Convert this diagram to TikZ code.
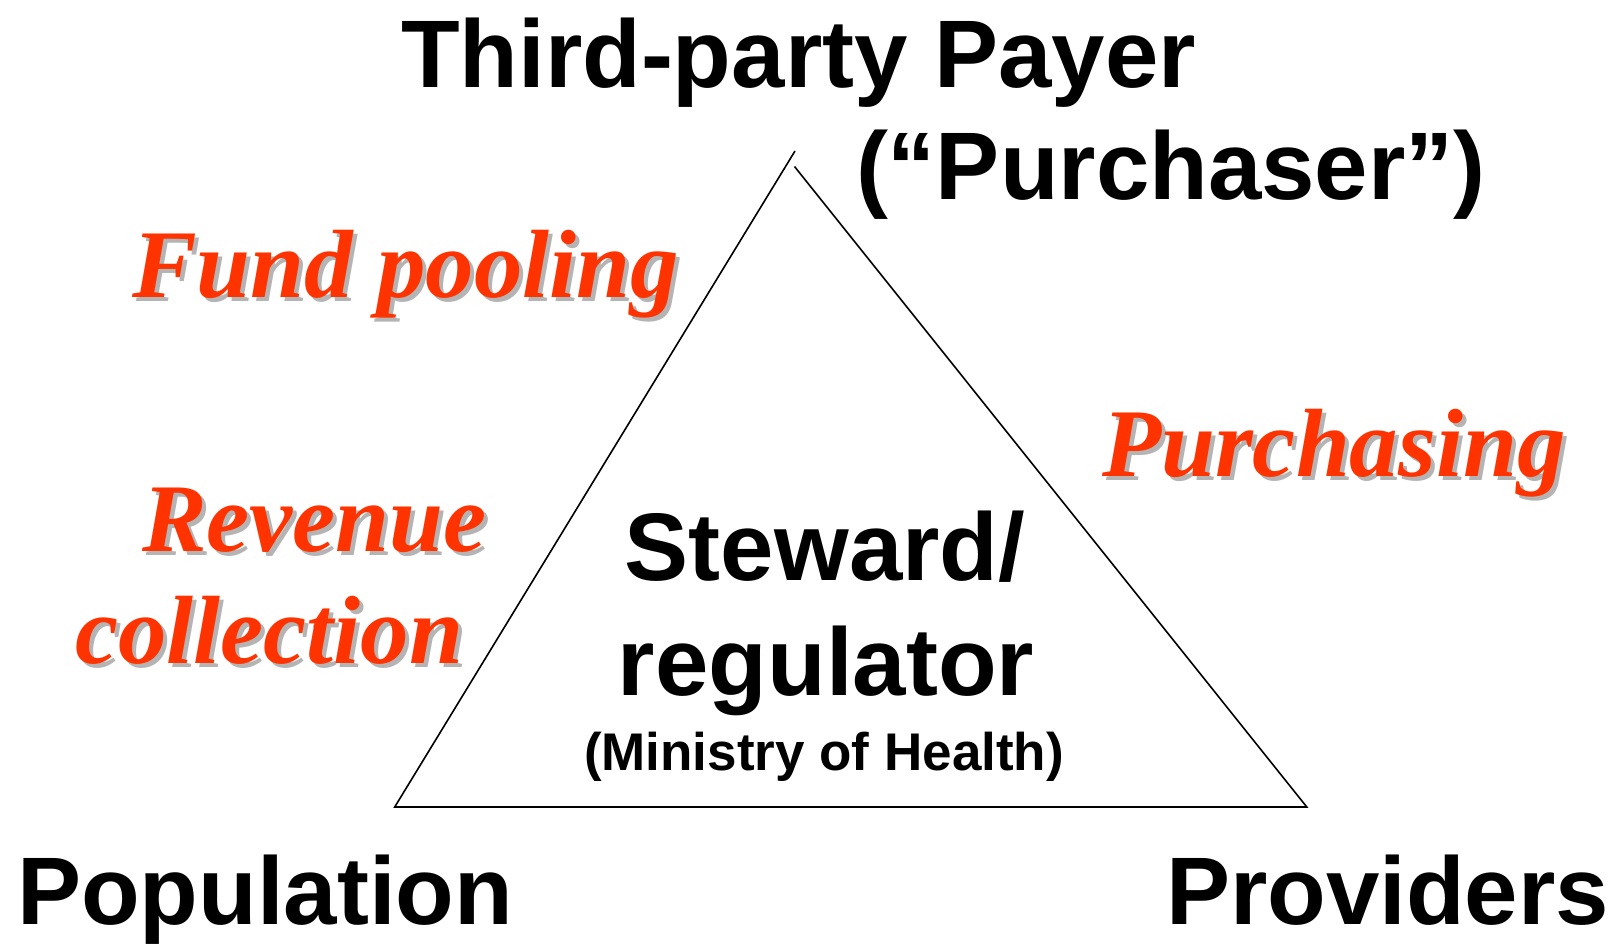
\documentclass[tikz,border=0pt]{standalone}
\usepackage{fontspec}
\newfontfamily\hvfont{Liberation Sans}
\newfontfamily\tmfont{Liberation Serif}
\definecolor{redtxt}{HTML}{FF3300}
\definecolor{shadowgray}{HTML}{B4B4B4}
\begin{document}
\begin{tikzpicture}[x=1pt,y=-1pt,
  blk/.style={inner sep=0pt,outer sep=0pt,text=black,font=\hvfont\bfseries\fontsize{96}{115}\selectfont},
  small/.style={inner sep=0pt,outer sep=0pt,text=black,font=\hvfont\bfseries\fontsize{53}{60}\selectfont},
  redt/.style={inner sep=0pt,outer sep=0pt,text=redtxt,font=\tmfont\bfseries\itshape\fontsize{97}{115}\selectfont},
  shad/.style={inner sep=0pt,outer sep=0pt,text=shadowgray,font=\tmfont\bfseries\itshape\fontsize{97}{115}\selectfont},
  tri/.style={draw=black,line width=1.6pt,line join=miter}]
\useasboundingbox (0,0) rectangle (1616,945);
% triangle corners
\coordinate (apexL) at (795,151);
\coordinate (apexR) at (794.5,166.5);
\coordinate (bl) at (394.7,807);
\coordinate (br) at (1306.8,807);
\draw[tri] (apexL) -- (bl) -- (br) -- (apexR);
% black labels
\node[blk,anchor=base west] (payer) at (401,87.5) {Third-party Payer};
\node[blk,anchor=base west] (purch) at (856,199) {(“Purchaser”)};
\node[blk,anchor=base] (stew) at (825,580) {Steward/};
\node[blk,anchor=base] (regu) at (826,695) {regulator};
\node[small,anchor=base] (moh) at (824,770) {(Ministry of Health)};
\node[blk,anchor=base west] (pop) at (17,924) {Population};
\node[blk,anchor=base west] (prov) at (1166,924) {Providers};
% red italic labels with shadows
\node[shad,anchor=base west] (fundS) at (136,301) {Fund pooling};
\node[redt,anchor=base west] (fund) at (132,297) {Fund pooling};
\node[shad,anchor=base west] (purS) at (1106,480) {Purchasing};
\node[redt,anchor=base west] (pur) at (1102,476) {Purchasing};
\node[shad,anchor=base west] (revS) at (146,555) {Revenue};
\node[redt,anchor=base west] (rev) at (142,551) {Revenue};
\node[shad,anchor=base west] (colS) at (79,667) {collection};
\node[redt,anchor=base west] (col) at (75,663) {collection};
\end{tikzpicture}
\end{document}
